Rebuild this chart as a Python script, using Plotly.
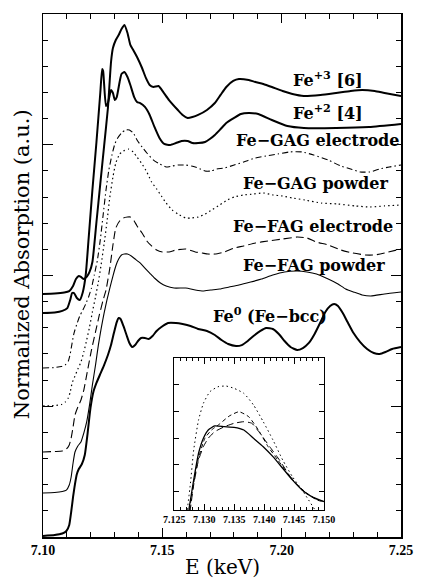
import plotly.graph_objects as go

# ---------------- main panel data (E in keV, normalized absorption, offset) -------------
E_fe3 = [7.1000, 7.1049, 7.1089, 7.1110, 7.1126, 7.1138, 7.1150, 7.1159, 7.1171, 7.1183,
         7.1195, 7.1207, 7.1224, 7.1240, 7.1256, 7.1272, 7.1285, 7.1293, 7.1305, 7.1317,
         7.1329, 7.1341, 7.1354, 7.1366, 7.1378, 7.1394, 7.1415, 7.1431, 7.1447, 7.1463,
         7.1484, 7.1504, 7.1528, 7.1565, 7.1585, 7.1606, 7.1626, 7.1650, 7.1687, 7.1720,
         7.1744, 7.1768, 7.1797, 7.1821, 7.1862, 7.1890, 7.1923, 7.1959, 7.2004, 7.2045,
         7.2093, 7.2163, 7.2228, 7.2289, 7.2337, 7.2390, 7.2431, 7.2500]
A_fe3 = [1.859, 1.862, 1.870, 1.881, 1.920, 1.973, 1.996, 1.989, 1.973, 1.989,
         2.027, 2.103, 2.409, 2.700, 2.990, 3.281, 3.633, 3.740, 3.801, 3.839,
         3.885, 3.916, 3.855, 3.763, 3.725, 3.671, 3.587, 3.511, 3.457, 3.442,
         3.449, 3.403, 3.342, 3.266, 3.228, 3.205, 3.212, 3.228, 3.266, 3.319,
         3.381, 3.442, 3.488, 3.503, 3.495, 3.480, 3.465, 3.442, 3.411, 3.388,
         3.373, 3.381, 3.396, 3.411, 3.419, 3.411, 3.396, 3.373]

E_fe2 = [7.1000, 7.1049, 7.1081, 7.1102, 7.1114, 7.1122, 7.1130, 7.1142, 7.1154, 7.1167,
         7.1179, 7.1191, 7.1207, 7.1224, 7.1240, 7.1248, 7.1252, 7.1256, 7.1264, 7.1272,
         7.1285, 7.1293, 7.1301, 7.1309, 7.1321, 7.1329, 7.1341, 7.1354, 7.1366, 7.1382,
         7.1394, 7.1407, 7.1427, 7.1447, 7.1467, 7.1488, 7.1508, 7.1533, 7.1557, 7.1581,
         7.1606, 7.1626, 7.1650, 7.1679, 7.1699, 7.1720, 7.1744, 7.1768, 7.1801, 7.1829,
         7.1862, 7.1902, 7.1959, 7.2024, 7.2093, 7.2228, 7.2366, 7.2500]
A_fe2 = [1.713, 1.717, 1.729, 1.751, 1.813, 1.866, 1.866, 1.828, 1.813, 1.874,
         2.004, 2.279, 2.654, 3.021, 3.396, 3.579, 3.564, 3.465, 3.296, 3.319,
         3.419, 3.396, 3.342, 3.365, 3.480, 3.541, 3.556, 3.518, 3.457, 3.365,
         3.327, 3.319, 3.289, 3.228, 3.136, 3.052, 3.006, 2.998, 3.013, 3.029,
         3.029, 3.013, 3.013, 3.021, 3.044, 3.075, 3.120, 3.166, 3.205, 3.235,
         3.243, 3.235, 3.189, 3.143, 3.128, 3.128, 3.136, 3.159]

E_gag_el = [7.1000, 7.1049, 7.1077, 7.1093, 7.1106, 7.1114, 7.1122, 7.1130, 7.1142, 7.1154,
            7.1167, 7.1179, 7.1191, 7.1203, 7.1215, 7.1228, 7.1240, 7.1252, 7.1264, 7.1276,
            7.1289, 7.1301, 7.1313, 7.1329, 7.1346, 7.1362, 7.1378, 7.1394, 7.1415, 7.1435,
            7.1463, 7.1488, 7.1516, 7.1541, 7.1565, 7.1598, 7.1622, 7.1650, 7.1679, 7.1703,
            7.1728, 7.1760, 7.1801, 7.1841, 7.1890, 7.1935, 7.1984, 7.2033, 7.2085, 7.2134,
            7.2195, 7.2248, 7.2289, 7.2329, 7.2370, 7.2411, 7.2451, 7.2500]
A_gag_el = [1.293, 1.296, 1.304, 1.315, 1.346, 1.400, 1.484, 1.560, 1.629, 1.690,
            1.736, 1.782, 1.836, 1.904, 2.004, 2.119, 2.272, 2.463, 2.654, 2.807,
            2.922, 3.006, 3.052, 3.090, 3.113, 3.113, 3.090, 3.036, 2.983, 2.937,
            2.883, 2.853, 2.830, 2.837, 2.845, 2.845, 2.837, 2.822, 2.799, 2.799,
            2.815, 2.822, 2.845, 2.868, 2.899, 2.914, 2.929, 2.945, 2.945, 2.922,
            2.883, 2.837, 2.815, 2.792, 2.792, 2.815, 2.830, 2.845]

E_gag_pw = [7.1000, 7.1049, 7.1077, 7.1093, 7.1106, 7.1114, 7.1122, 7.1134, 7.1146, 7.1159,
            7.1171, 7.1183, 7.1195, 7.1207, 7.1220, 7.1232, 7.1244, 7.1256, 7.1268, 7.1280,
            7.1293, 7.1305, 7.1321, 7.1337, 7.1358, 7.1378, 7.1394, 7.1415, 7.1435, 7.1455,
            7.1476, 7.1496, 7.1516, 7.1541, 7.1565, 7.1598, 7.1622, 7.1650, 7.1679, 7.1707,
            7.1740, 7.1772, 7.1801, 7.1841, 7.1882, 7.1923, 7.1963, 7.2004, 7.2045, 7.2098,
            7.2167, 7.2236, 7.2309, 7.2370, 7.2431, 7.2500]
A_gag_pw = [1.002, 1.006, 1.013, 1.032, 1.063, 1.109, 1.178, 1.231, 1.285, 1.338,
            1.415, 1.507, 1.606, 1.721, 1.836, 1.950, 2.088, 2.241, 2.409, 2.600,
            2.753, 2.860, 2.929, 2.952, 2.967, 2.945, 2.906, 2.853, 2.792, 2.715,
            2.662, 2.608, 2.554, 2.501, 2.470, 2.440, 2.440, 2.447, 2.470, 2.501,
            2.539, 2.577, 2.600, 2.616, 2.623, 2.631, 2.616, 2.608, 2.593, 2.577,
            2.554, 2.547, 2.532, 2.524, 2.532, 2.539]

E_fag_el = [7.1000, 7.1049, 7.1081, 7.1098, 7.1110, 7.1118, 7.1126, 7.1134, 7.1146, 7.1159,
            7.1171, 7.1187, 7.1203, 7.1220, 7.1236, 7.1252, 7.1264, 7.1280, 7.1293, 7.1305,
            7.1321, 7.1337, 7.1354, 7.1366, 7.1382, 7.1394, 7.1415, 7.1435, 7.1455, 7.1476,
            7.1500, 7.1528, 7.1557, 7.1598, 7.1638, 7.1667, 7.1691, 7.1720, 7.1760, 7.1801,
            7.1841, 7.1890, 7.1943, 7.2004, 7.2065, 7.2106, 7.2146, 7.2195, 7.2248, 7.2297,
            7.2350, 7.2390, 7.2431, 7.2500]
A_fag_el = [0.650, 0.654, 0.658, 0.673, 0.704, 0.757, 0.841, 0.933, 0.994, 1.048,
            1.124, 1.277, 1.430, 1.568, 1.698, 1.813, 1.889, 2.057, 2.233, 2.363,
            2.417, 2.440, 2.447, 2.447, 2.417, 2.379, 2.325, 2.264, 2.226, 2.195,
            2.180, 2.180, 2.195, 2.203, 2.180, 2.172, 2.164, 2.164, 2.180, 2.210,
            2.226, 2.249, 2.264, 2.279, 2.294, 2.287, 2.256, 2.233, 2.195, 2.172,
            2.157, 2.157, 2.172, 2.203]

E_fag_pw = [7.1000, 7.1049, 7.1081, 7.1098, 7.1110, 7.1118, 7.1126, 7.1134, 7.1146, 7.1159,
            7.1171, 7.1183, 7.1195, 7.1207, 7.1220, 7.1232, 7.1244, 7.1256, 7.1268, 7.1280,
            7.1293, 7.1305, 7.1317, 7.1329, 7.1341, 7.1354, 7.1370, 7.1386, 7.1407, 7.1427,
            7.1447, 7.1467, 7.1492, 7.1516, 7.1549, 7.1598, 7.1638, 7.1671, 7.1703, 7.1740,
            7.1780, 7.1821, 7.1870, 7.1915, 7.1963, 7.2012, 7.2065, 7.2106, 7.2146, 7.2195,
            7.2236, 7.2268, 7.2301, 7.2337, 7.2374, 7.2431, 7.2500]
A_fag_pw = [0.337, 0.340, 0.348, 0.359, 0.398, 0.459, 0.566, 0.650, 0.696, 0.727,
            0.795, 0.880, 1.010, 1.163, 1.315, 1.468, 1.598, 1.713, 1.813, 1.904,
            1.996, 2.073, 2.126, 2.157, 2.164, 2.164, 2.149, 2.126, 2.096, 2.057,
            2.019, 1.981, 1.943, 1.920, 1.904, 1.904, 1.889, 1.881, 1.889, 1.897,
            1.912, 1.927, 1.950, 1.973, 2.004, 2.027, 2.034, 2.027, 2.011, 1.973,
            1.935, 1.897, 1.874, 1.851, 1.843, 1.859, 1.874]

E_fe0 = [7.1000, 7.1049, 7.1081, 7.1098, 7.1110, 7.1118, 7.1126, 7.1134, 7.1142, 7.1150,
         7.1163, 7.1175, 7.1187, 7.1199, 7.1211, 7.1224, 7.1240, 7.1256, 7.1272, 7.1285,
         7.1297, 7.1309, 7.1317, 7.1325, 7.1337, 7.1350, 7.1362, 7.1374, 7.1386, 7.1398,
         7.1411, 7.1427, 7.1443, 7.1459, 7.1476, 7.1496, 7.1524, 7.1557, 7.1585, 7.1618,
         7.1650, 7.1687, 7.1720, 7.1748, 7.1776, 7.1809, 7.1833, 7.1858, 7.1882, 7.1911,
         7.1935, 7.1963, 7.1988, 7.2012, 7.2037, 7.2065, 7.2089, 7.2114, 7.2138, 7.2163,
         7.2183, 7.2203, 7.2220, 7.2236, 7.2256, 7.2276, 7.2301, 7.2329, 7.2358, 7.2386,
         7.2411, 7.2435, 7.2463, 7.2500]
A_fe0 = [0.008, 0.015, 0.027, 0.046, 0.092, 0.191, 0.306, 0.405, 0.482, 0.520,
         0.558, 0.627, 0.795, 0.987, 1.109, 1.178, 1.247, 1.315, 1.392, 1.468,
         1.560, 1.644, 1.675, 1.667, 1.614, 1.545, 1.484, 1.453, 1.468, 1.499,
         1.522, 1.522, 1.514, 1.537, 1.576, 1.606, 1.637, 1.637, 1.629, 1.614,
         1.591, 1.576, 1.545, 1.507, 1.476, 1.461, 1.468, 1.499, 1.537, 1.576,
         1.598, 1.591, 1.553, 1.499, 1.453, 1.430, 1.445, 1.484, 1.553, 1.644,
         1.721, 1.767, 1.782, 1.767, 1.713, 1.644, 1.560, 1.491, 1.438, 1.407,
         1.400, 1.415, 1.438, 1.453]

# ---------------- inset data (white-line region) ----------------
Ei_solid = [7.12743, 7.12824, 7.12905, 7.12986, 7.13067, 7.13175, 7.13337, 7.13499, 7.13661,
            7.13823, 7.13985, 7.14147, 7.14309, 7.14471, 7.14632, 7.14794, 7.15000]
Ai_solid = [0.315, 1.438, 2.438, 3.000, 3.311, 3.461, 3.434, 3.412, 3.311,
            3.000, 2.685, 2.311, 1.876, 1.438, 1.064, 0.813, 0.625]

Ei_sdash = [7.12754, 7.12824, 7.12905, 7.13013, 7.13122, 7.13256, 7.13418, 7.13580, 7.13742,
            7.13904, 7.14066, 7.14228, 7.14390, 7.14552, 7.14714, 7.14876, 7.15000]
Ai_sdash = [0.315, 1.326, 2.262, 3.011, 3.311, 3.536, 3.835, 3.996, 3.809,
            3.311, 2.685, 2.187, 1.689, 1.251, 0.940, 0.689, 0.614]

Ei_ldash = [7.12762, 7.12824, 7.12905, 7.12986, 7.13067, 7.13175, 7.13337, 7.13499, 7.13661,
            7.13795, 7.13931, 7.14093, 7.14255, 7.14417, 7.14579, 7.14741, 7.14903, 7.15000]
Ai_ldash = [0.240, 1.251, 2.187, 2.685, 3.000, 3.247, 3.434, 3.562, 3.622,
            3.562, 3.187, 2.685, 2.187, 1.625, 1.187, 0.876, 0.689, 0.625]

Ei_dot = [7.12717, 7.12770, 7.12824, 7.12905, 7.12986, 7.13094, 7.13229, 7.13365, 7.13499,
          7.13661, 7.13823, 7.13985, 7.14147, 7.14309, 7.14471, 7.14632, 7.14741, 7.14848, 7.14908]
Ai_dot = [0.315, 1.315, 2.562, 3.685, 4.311, 4.745, 4.933, 4.959, 4.873,
          4.685, 4.247, 3.622, 2.936, 2.187, 1.562, 1.064, 0.689, 0.315, 0.090]

labels = ["Fe<sup>+3</sup> [6]", "Fe<sup>+2</sup> [4]", "Fe\u2212GAG electrode", "Fe\u2212GAG powder",
          "Fe\u2212FAG electrode", "Fe\u2212FAG powder", "Fe<sup>0</sup> (Fe\u2212bcc)"]
label_E = [7.2195, 7.2195, 7.2150, 7.2140, 7.2132, 7.2136, 7.1950]
label_A = [3.503, 3.250, 3.029, 2.707, 2.371, 2.073, 1.698]

fig = go.Figure()


def add(x, y, width, dash="solid", xa="x", ya="y"):
    fig.add_trace(go.Scatter(x=x, y=y, mode="lines", xaxis=xa, yaxis=ya,
                             line=dict(color="black", width=width, dash=dash,
                                       shape="spline", smoothing=0.5),
                             showlegend=False, hoverinfo="skip"))


add(E_fe3, A_fe3, 2.0)
add(E_fe2, A_fe2, 2.0)
add(E_gag_el, A_gag_el, 1.1, "6px,3px,1.5px,3px")
add(E_gag_pw, A_gag_pw, 1.2, "1.5px,3px")
add(E_fag_el, A_fag_el, 1.1, "8px,4px")
add(E_fag_pw, A_fag_pw, 1.1)
add(E_fe0, A_fe0, 2.0)

add(Ei_solid, Ai_solid, 1.3, "solid", "x2", "y2")
add(Ei_sdash, Ai_sdash, 1.0, "4px,3px", "x2", "y2")
add(Ei_ldash, Ai_ldash, 1.0, "7px,4px", "x2", "y2")
add(Ei_dot, Ai_dot, 1.0, "1.5px,3px", "x2", "y2")

tickfont_main = dict(family="Liberation Serif", size=14, color="black", weight="bold")
tickfont_in = dict(family="Liberation Serif", size=10, color="black", weight="bold")

common = dict(showline=True, linecolor="black", mirror="allticks", showgrid=False,
              zeroline=False, ticks="inside", tickcolor="black", tickwidth=1)

fig.update_layout(
    width=425, height=579,
    margin=dict(l=43, r=13, t=14, b=42),
    paper_bgcolor="white", plot_bgcolor="white",
    showlegend=False,
    xaxis=dict(domain=[0, 1], range=[7.10, 7.25], tick0=7.10, dtick=0.05, tickformat=".2f",
               ticklen=9, linewidth=1.5, tickfont=tickfont_main,
               minor=dict(dtick=0.01, ticks="inside", ticklen=5, tickcolor="black", tickwidth=1,
                          showgrid=False),
               **common),
    yaxis=dict(domain=[0, 1], range=[0, 4], tick0=0, dtick=1, ticklen=10, linewidth=1.5,
               showticklabels=False,
               minor=dict(dtick=0.2, ticks="inside", ticklen=5, tickcolor="black", tickwidth=1,
                          showgrid=False),
               **common),
    xaxis2=dict(domain=[0.3667, 0.7851], anchor="y2", range=[7.125, 7.150], tick0=7.125,
                dtick=0.005, tickformat=".3f", ticklen=6, linewidth=1.2, tickfont=tickfont_in,
                minor=dict(dtick=0.001, ticks="inside", ticklen=3, tickcolor="black", tickwidth=1,
                           showgrid=False),
                **common),
    yaxis2=dict(domain=[0.0516, 0.3417], anchor="x2", range=[0.31, 6.0], tick0=0, dtick=1,
                ticklen=5, linewidth=1.2, showticklabels=False, **common),
)

for t, xe, ya in zip(labels, label_E, label_A):
    fig.add_annotation(x=xe, y=ya, xref="x", yref="y", text=t, showarrow=False,
                       xanchor="center", yanchor="middle",
                       font=dict(family="DejaVu Serif", size=16, color="black", weight="bold"))

fig.add_annotation(x=0.5027, y=-0.0575, xref="paper", yref="paper", text="E (keV)",
                   showarrow=False, xanchor="center", yanchor="middle",
                   font=dict(family="DejaVu Serif", size=20, color="black"))
fig.add_annotation(x=-0.0596, y=0.521, xref="paper", yref="paper",
                   text="Normalized Absorption (a.u.)", textangle=-90,
                   showarrow=False, xanchor="center", yanchor="middle",
                   font=dict(family="DejaVu Serif", size=21, color="black"))

fig.write_html("out.html", config={"displayModeBar": False, "staticPlot": True},
               post_script="document.body.style.margin='0';document.body.style.overflow='hidden';")
